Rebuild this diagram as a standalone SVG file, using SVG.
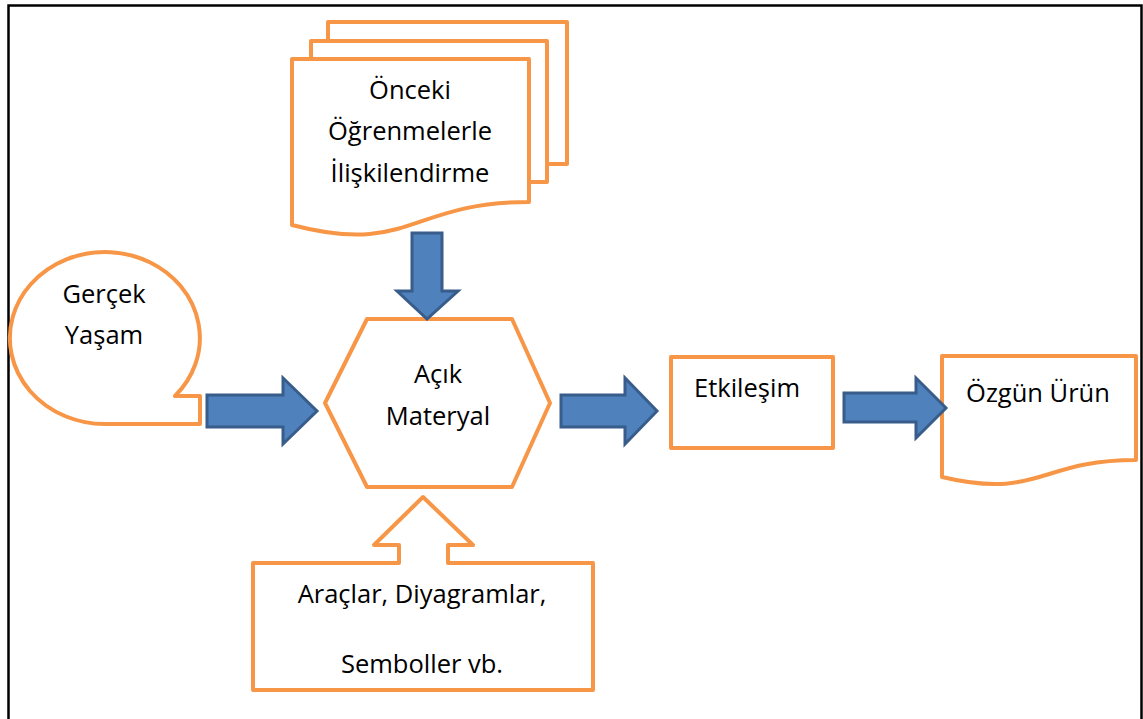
<svg xmlns="http://www.w3.org/2000/svg" width="1143" height="719" viewBox="0 0 1143 719">
<style>
.sh{fill:#fff;stroke:#F79646;stroke-width:4;stroke-linejoin:round}
.ar{fill:#4F81BD;stroke:#385D8A;stroke-width:3;stroke-linejoin:miter}
.t{font-family:"Open Sans",Lato,sans-serif;font-size:25.5px;fill:#000;text-anchor:middle}
</style>
<rect width="1143" height="719" fill="#fff"/>
<path d="M8.5,719 V5.5 H1141.5 V719" fill="none" stroke="#000" stroke-width="2.5"/>
<g id="onceki">
<path class="sh" d="M328,41 V22 H567 V164 H547"/>
<path class="sh" d="M311,59 V41 H547 V182 H529"/>
<path class="sh" d="M292,59 H529 V202 C410,202 410,256 292,225 Z"/>
<text class="t" x="410" y="99">Önceki</text>
<text class="t" x="410" y="140">Öğrenmelerle</text>
<text class="t" x="410" y="182">İlişkilendirme</text>
</g>
<g id="gercek">
<path class="sh" d="M105,424 A95,86 0 1 1 175,396 H200 V424 Z"/>
<text class="t" x="104" y="303">Gerçek</text>
<text class="t" x="104" y="344">Yaşam</text>
</g>
<g id="acik">
<path class="sh" d="M367,319 H512 L550,403 L512,487 H367 L325,403 Z"/>
<text class="t" x="438" y="383">Açık</text>
<text class="t" x="438" y="425">Materyal</text>
</g>
<g id="etkilesim">
<rect class="sh" x="671" y="357" width="162" height="91"/>
<text class="t" x="747" y="397">Etkileşim</text>
</g>
<g id="ozgun">
<path class="sh" d="M942,356 H1136 V460 C1039,460 1039,500 942,477 Z"/>
<text class="t" x="1038" y="402">Özgün Ürün</text>
</g>
<g id="araclar">
<path class="sh" d="M253,563 H399 V545 H374 L423,497 L473,545 H448 V563 H593 V690 H253 Z"/>
<text class="t" x="422" y="603">Araçlar, Diyagramlar,</text>
<text class="t" x="422" y="673">Semboller vb.</text>
</g>
<g id="connectors">
<path class="ar" d="M207,395 H283 V378 L317,411 L283,444 V427 H207 Z"/>
<path class="ar" d="M412,233 H442 V291 H458 L427,319 L397,291 H412 Z"/>
<path class="ar" d="M561,395 H625 V378 L657,411 L625,444 V427 H561 Z"/>
<path class="ar" d="M844,393 H916 V378 L946,408 L916,438 V422 H844 Z"/>
</g>
</svg>
